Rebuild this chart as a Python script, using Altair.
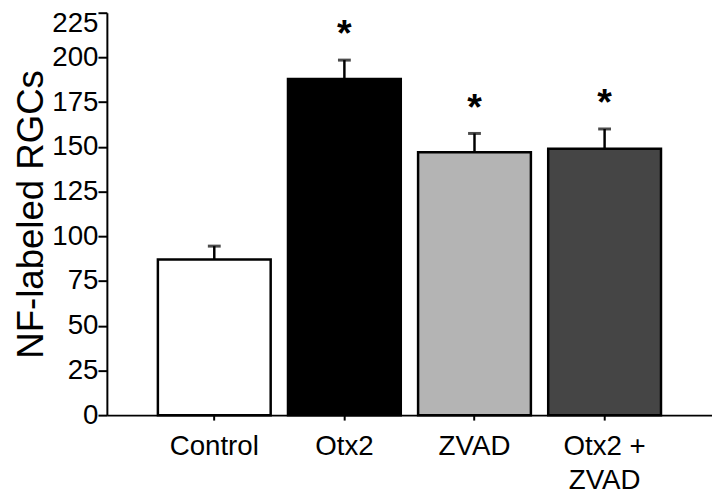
import altair as alt
import pandas as pd

groups = ["Control", "Otx2", "ZVAD", "Otx2 + ZVAD"]
means = [87, 188, 147, 149]
errors = [7.5, 10.5, 10.5, 11]
marks = ["", "*", "*", "*"]
fills = ["#ffffff", "#000000", "#b4b4b4", "#454545"]
y_ticks = [0, 25, 50, 75, 100, 125, 150, 175, 200, 225]

df = pd.DataFrame({"group": groups, "mean": means, "err": errors, "sig": marks})
df["top"] = df["mean"] + df["err"]

FONT = "Liberation Sans"

x_enc = alt.X(
    "group:N",
    sort=groups,
    scale=alt.Scale(paddingInner=0.133, paddingOuter=0.392),
    axis=alt.Axis(
        title=None,
        labelAngle=0,
        labelFontSize=28,
        labelFont=FONT,
        labelColor="black",
        labelPadding=13,
        labelLineHeight=34,
        labelExpr="datum.value == 'Otx2 + ZVAD' ? ['Otx2 +', 'ZVAD'] : datum.label",
        tickSize=5,
        tickWidth=2,
        tickColor="black",
        domainColor="black",
        domainWidth=2,
        grid=False,
    ),
)

base = alt.Chart(df)

bars = base.mark_bar(stroke="black", strokeWidth=2.5).encode(
    x=x_enc,
    y=alt.Y(
        "mean:Q",
        scale=alt.Scale(domain=[0, 225], nice=False),
        axis=alt.Axis(
            values=y_ticks,
            title="NF-labeled RGCs",
            titleFont=FONT,
            titleFontSize=37,
            titleFontWeight="normal",
            titleColor="black",
            titlePadding=1,
            labelFont=FONT,
            labelFontSize=28,
            labelColor="black",
            labelPadding=0,
            labelOffset={"condition": {"test": "datum.value == 225", "value": 11}, "value": 0},
            tickSize=9,
            tickWidth=2,
            tickColor="black",
            domainColor="black",
            domainWidth=2,
            grid=False,
        ),
    ),
    fill=alt.Fill("group:N", scale=alt.Scale(domain=groups, range=fills), legend=None),
)

rules = base.mark_rule(color="black", strokeWidth=2.5).encode(
    x=alt.X("group:N", sort=groups), y="mean:Q", y2="top:Q"
)

caps = base.mark_tick(color="black", thickness=3, size=13, orient="horizontal").encode(
    x=alt.X("group:N", sort=groups), y="top:Q"
)

stars = base.transform_filter("datum.sig != ''").mark_text(
    fontSize=38, font=FONT, fontWeight="bold", baseline="alphabetic", dy=-14, color="black"
).encode(x=alt.X("group:N", sort=groups), y="top:Q", text="sig:N")

chart = (
    alt.layer(bars, rules, caps, stars)
    .properties(
        width=612,
        height=407,
        autosize=alt.AutoSizeParams(type="none"),
        padding={"left": 100, "top": 2, "right": 0, "bottom": 78},
    )
    .configure_view(stroke=None)
)

chart.save("out.html", embed_options={"renderer": "svg", "actions": False})
